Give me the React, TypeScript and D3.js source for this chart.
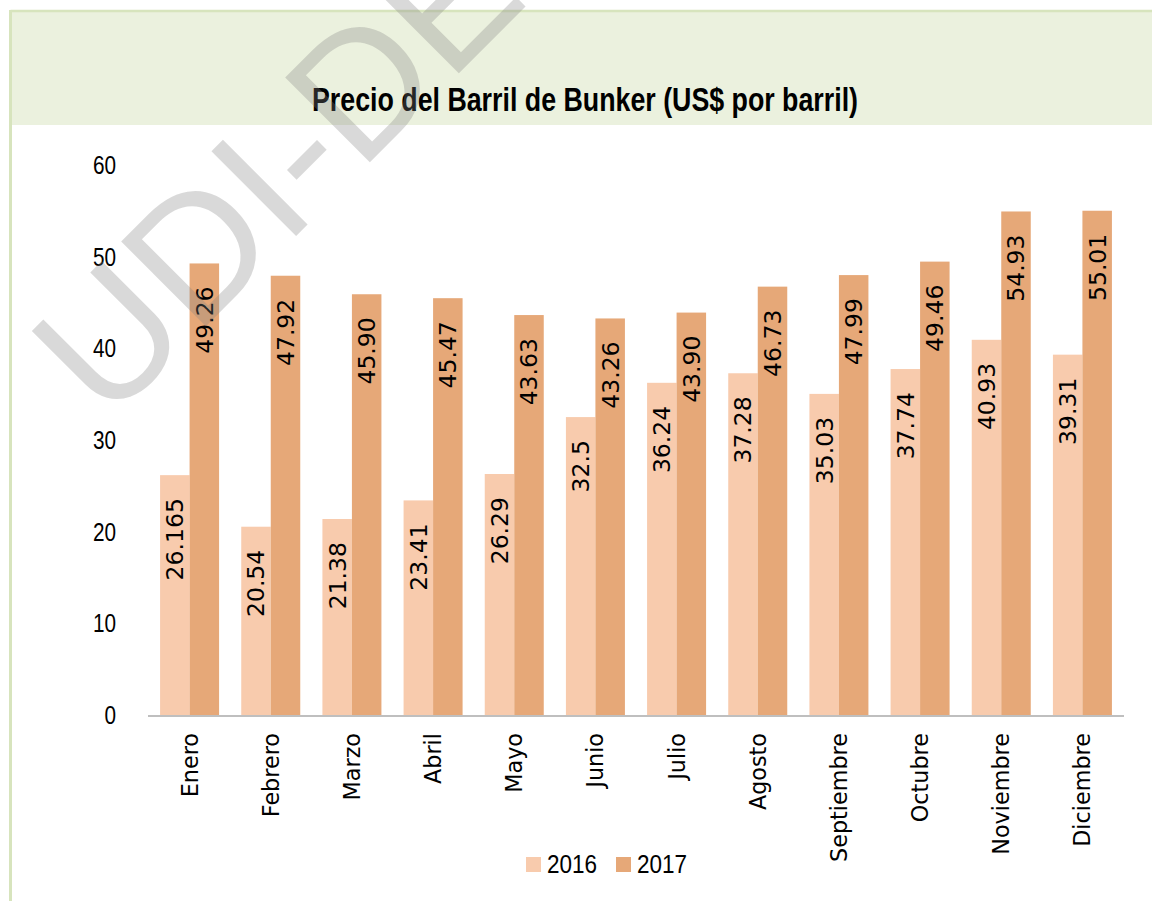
import React from "react";
import * as d3 from "d3";

const months = ["Enero","Febrero","Marzo","Abril","Mayo","Junio","Julio","Agosto","Septiembre","Octubre","Noviembre","Diciembre"];
const values2016 = [26.165, 20.54, 21.38, 23.41, 26.29, 32.5, 36.24, 37.28, 35.03, 37.74, 40.93, 39.31];
const values2017 = [49.26, 47.92, 45.90, 45.47, 43.63, 43.26, 43.90, 46.73, 47.99, 49.46, 54.93, 55.01];
const labels2016 = ["26.165","20.54","21.38","23.41","26.29","32.5","36.24","37.28","35.03","37.74","40.93","39.31"];
const labels2017 = ["49.26","47.92","45.90","45.47","43.63","43.26","43.90","46.73","47.99","49.46","54.93","55.01"];
const seriesNames = ["2016", "2017"];
const yTicks = [0, 10, 20, 30, 40, 50, 60];
const title = "Precio del Barril de Bunker (US$ por barril)";
const watermark = "UDI-DE";

const colors = ["#f8cbad", "#e6a878"];
const sans = "'Liberation Sans', Arial, sans-serif";
const labelFont = "'DejaVu Sans', sans-serif";

export default function App() {
  const W = 1152, H = 901;
  const x = d3.scaleBand<string>().domain(months).range([149, 1123]).paddingInner(0.273).paddingOuter(0.1365);
  const xs = d3.scaleBand<string>().domain(seriesNames).range([0, x.bandwidth()]);
  const y = d3.scaleLinear().domain([0, 60]).range([715, 165]);
  const series = [values2016, values2017];
  const labels = [labels2016, labels2017];

  return (
    <svg width={W} height={H} style={{ position: "absolute", left: 0, top: 0, display: "block", background: "#fff" }}>
      <rect x={0} y={0} width={W} height={H} fill="#ffffff" />
      {/* header band */}
      <rect x={11} y={12} width={W} height={113} fill="#ebf1de" />
      {/* border */}
      <line x1={10.5} y1={11} x2={W} y2={11} stroke="#d7e4bd" strokeWidth={2.5} />
      <line x1={10.5} y1={10} x2={10.5} y2={H} stroke="#d7e4bd" strokeWidth={3} />
      <text x={312} y={111} textLength={546} lengthAdjust="spacingAndGlyphs" fontFamily={sans} fontWeight="bold" fontSize={33} fill="#000">{title}</text>

      {/* y ticks */}
      {yTicks.map(t => (
        <text key={t} transform={`translate(116,${y(t)}) scale(0.83,1)`} dy="0.36em" textAnchor="end" fontFamily={sans} fontSize={25} fill="#000">{t}</text>
      ))}

      {/* bars */}
      {months.map((m, i) => (
        <g key={m} transform={`translate(${x(m)},0)`}>
          {series.map((s, k) => (
            <rect key={k} x={xs(seriesNames[k])!} y={y(s[i])} width={xs.bandwidth()} height={y(0) - y(s[i])} fill={colors[k]} />
          ))}
          {series.map((s, k) => {
            const cx = xs(seriesNames[k])! + xs.bandwidth() / 2;
            const ty = y(s[i]) + 23;
            return (
              <text key={"l" + k} transform={`translate(${cx},${ty}) rotate(-90)`} textAnchor="end" dy="0.36em"
                fontFamily={labelFont} fontSize={23.5} fill="#000">{labels[k][i]}</text>
            );
          })}
        </g>
      ))}

      {/* axis line */}
      <line x1={148} x2={1124} y1={y(0) + 1} y2={y(0) + 1} stroke="#bfbfbf" strokeWidth={2} />

      {/* month labels */}
      {months.map(m => (
        <text key={m} transform={`translate(${x(m)! + x.bandwidth() / 2},733) rotate(-90)`} textAnchor="end" dy="0.36em"
          fontFamily={labelFont} fontSize={22.3} fill="#000">{m}</text>
      ))}

      {/* legend */}
      <g>
        <rect x={526} y={857} width={15} height={15} fill={colors[0]} />
        <text transform="translate(547,873) scale(0.9,1)" fontFamily={sans} fontSize={25} fill="#000">{seriesNames[0]}</text>
        <rect x={616} y={857} width={15} height={15} fill={colors[1]} />
        <text transform="translate(637,873) scale(0.9,1)" fontFamily={sans} fontSize={25} fill="#000">{seriesNames[1]}</text>
      </g>

      {/* watermark */}
      <text transform="translate(107,425) rotate(-45)" fontFamily={sans} fontSize={174}
        fill="#808080" fillOpacity={0.3}>{watermark}</text>
    </svg>
  );
}
